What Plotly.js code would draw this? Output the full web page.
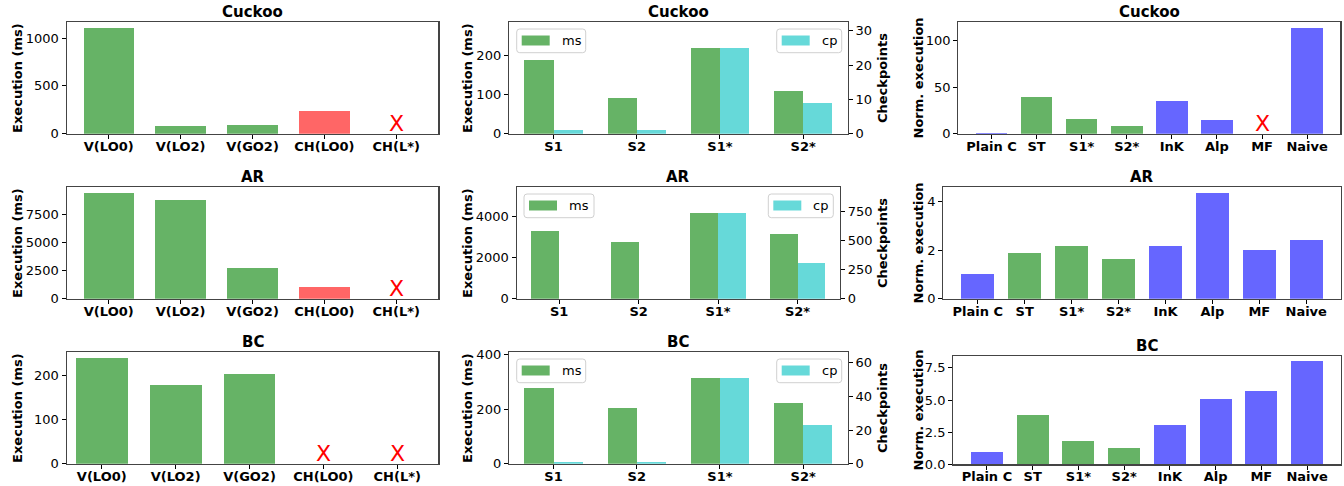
<!DOCTYPE html>
<html><head><meta charset="utf-8">
<script src="https://cdn.plot.ly/plotly-3.0.1.min.js"></script>
<style>html,body{margin:0;padding:0;background:#fff}#chart{width:1344px;height:486px}</style>
</head><body><div id="chart"></div>
<script>
// ---------- data ----------
const variantCats = ['V(LO0)', 'V(LO2)', 'V(GO2)', 'CH(LO0)', 'CH(L*)'];
const variantKinds = ['g', 'g', 'g', 'r', 'g'];
const cuckooExec = [1111, 80, 90, 236, 0];
const arExec = [9412, 8794, 2706, 1029, 0];
const bcExec = [241, 180, 205, 0, 0];
const cuckooExecFailed = [4];
const arExecFailed = [4];
const bcExecFailed = [3, 4];

const strategyCats = ['S1', 'S2', 'S1*', 'S2*'];
const cuckooMs = [189, 91, 220, 109];
const cuckooCp = [1, 1, 25, 9];
const arMs = [3274, 2742, 4145, 3129];
const arCp = [1, 1, 733, 305];
const bcMs = [278, 205, 315, 223];
const bcCp = [1, 1, 51, 23];

const systemCats = ['Plain C', 'ST', 'S1*', 'S2*', 'InK', 'Alp', 'MF', 'Naive'];
const systemKinds = ['b', 'g', 'g', 'g', 'b', 'b', 'b', 'b'];
const cuckooNorm = [1, 39, 15.7, 8.2, 34.9, 14.6, 0, 113.9];
const arNorm = [1, 1.88, 2.16, 1.62, 2.16, 4.37, 1.99, 2.40];
const bcNorm = [0.97, 3.82, 1.79, 1.27, 3.06, 5.09, 5.71, 8.05];
const cuckooNormFailed = [6];
const arNormFailed = [];
const bcNormFailed = [];

const benchTitles = ['Cuckoo', 'AR', 'BC'];
const legendLabels = ['ms', 'cp'];

// ---------- styling ----------
const W = 1344, H = 486;
const COL = {g: 'rgba(0,128,0,0.6)', r: 'rgba(255,0,0,0.6)', b: 'rgba(0,0,255,0.6)', c: 'rgba(0,191,191,0.6)'};
const FONT = 'DejaVu Sans, Liberation Sans, sans-serif';
const fx = p => p / W;
const fy = p => 1 - p / H;

// panel boxes in pixels: [left, right, top, bottom]
const boxes = {
  1: [66.7, 438.3, 22.3, 133.7], 2: [509, 847.7, 22.3, 133.7], 3: [958.3, 1340.3, 22.3, 133.7],
  4: [66.7, 438.3, 187.3, 298.7], 5: [516.7, 840, 187.3, 298.7], 6: [943.3, 1340.7, 187.3, 298.7],
  7: [66.7, 438.3, 352.3, 463.7], 8: [509, 847.7, 352.3, 463.7], 9: [953.3, 1340.7, 355.7, 464.3]
};

const layout = {
  width: W, height: H, margin: {l: 0, r: 0, t: 0, b: 0},
  paper_bgcolor: '#fff', plot_bgcolor: '#fff',
  font: {family: FONT, size: 13, color: '#000'},
  showlegend: false, annotations: [], shapes: [], bargap: 0
};
const data = [];
const sfx = n => (n === 1 ? '' : String(n));

function baseX(n, cats, range) {
  const b = boxes[n];
  layout['xaxis' + sfx(n)] = {
    domain: [fx(b[0]), fx(b[1])], anchor: 'y' + sfx(n), range: range,
    tickmode: 'array', tickvals: cats.map((c, i) => i), ticktext: cats,
    tickfont: {family: FONT, size: 13, weight: 'bold', color: '#000'},
    ticks: 'outside', ticklen: 4, tickcolor: '#000', tickwidth: 1, ticklabelstandoff: -4,
    showline: true, mirror: true, linecolor: '#444', linewidth: 1.2,
    showgrid: false, zeroline: false, fixedrange: true
  };
}
function baseY(n, range, dtick, fmt, mirror) {
  const b = boxes[n];
  layout['yaxis' + sfx(n)] = {
    domain: [fy(b[3]), fy(b[2])], anchor: 'x' + sfx(n), range: range, dtick: dtick, tick0: 0,
    tickformat: fmt, tickfont: {family: FONT, size: 13, color: '#000'},
    ticks: 'outside', ticklen: 4, tickcolor: '#000', tickwidth: 1,
    showline: true, mirror: mirror, linecolor: '#444', linewidth: 1.2,
    showgrid: false, zeroline: false, fixedrange: true
  };
}
function panelTitle(n, text) {
  const b = boxes[n];
  layout.annotations.push({xref: 'paper', yref: 'paper', x: fx((b[0] + b[1]) / 2), y: fy(b[2]),
    xanchor: 'center', yanchor: 'bottom', yshift: -1, showarrow: false, text: '<b>' + text + '</b>',
    font: {family: FONT, size: 15, color: '#000'}});
}
function yTitle(xpx, n, text) {
  const b = boxes[n];
  layout.annotations.push({xref: 'paper', yref: 'paper', x: fx(xpx), y: fy((b[2] + b[3]) / 2),
    xanchor: 'center', yanchor: 'middle', textangle: -90, showarrow: false, text: '<b>' + text + '</b>',
    font: {family: FONT, size: 13, color: '#000'}});
}
function failMarks(n, idxs) {
  idxs.forEach(i => layout.annotations.push({xref: 'x' + sfx(n), yref: 'y' + sfx(n), x: i, y: 0,
    xanchor: 'center', yanchor: 'bottom', yshift: -4, showarrow: false, text: 'X',
    font: {family: FONT, size: 22, color: 'red'}}));
}
function singleBars(n, cats, kinds, vals) {
  data.push({type: 'bar', x: cats.map((c, i) => i), y: vals, width: 0.7,
    marker: {color: kinds.map(k => COL[k]), line: {width: 0}},
    xaxis: 'x' + sfx(n), yaxis: 'y' + sfx(n), showlegend: false, hoverinfo: 'skip'});
}
// matplotlib-like legend box: rounded frame, wide colour patch, label
function legendBox(left, top, width, color, label) {
  const h = 23.7, r = 3;
  const X = p => fx(p), Y = p => fy(p);
  const l = left, t = top, rr = left + width, bb = top + h;
  const path = `M${X(l + r)},${Y(t)} L${X(rr - r)},${Y(t)} Q${X(rr)},${Y(t)} ${X(rr)},${Y(t + r)} ` +
    `L${X(rr)},${Y(bb - r)} Q${X(rr)},${Y(bb)} ${X(rr - r)},${Y(bb)} L${X(l + r)},${Y(bb)} ` +
    `Q${X(l)},${Y(bb)} ${X(l)},${Y(bb - r)} L${X(l)},${Y(t + r)} Q${X(l)},${Y(t)} ${X(l + r)},${Y(t)} Z`;
  layout.shapes.push({type: 'path', xref: 'paper', yref: 'paper', path: path,
    fillcolor: 'rgba(255,255,255,0.8)', line: {color: '#d0d0d0', width: 1}});
  layout.shapes.push({type: 'rect', xref: 'paper', yref: 'paper',
    x0: X(l + 5), x1: X(l + 33), y0: Y(t + 16.5), y1: Y(t + 6.5), fillcolor: color, line: {width: 0}});
  layout.annotations.push({xref: 'paper', yref: 'paper', x: X(l + 43), y: Y(t + h / 2),
    xanchor: 'left', yanchor: 'middle', showarrow: false, text: label,
    font: {family: FONT, size: 13, color: '#000'}});
}

// ---------- column 1: execution by variant ----------
const col1 = [
  {n: 1, vals: cuckooExec, failed: cuckooExecFailed, range: [0, 1166], dtick: 500, xr: [-0.585, 4.585]},
  {n: 4, vals: arExec, failed: arExecFailed, range: [0, 9882], dtick: 2500, xr: [-0.585, 4.585]},
  {n: 7, vals: bcExec, failed: bcExecFailed, range: [0, 253.6], dtick: 100, xr: [-0.475, 4.556]}
];
col1.forEach((p, r) => {
  singleBars(p.n, variantCats, variantKinds, p.vals);
  baseX(p.n, variantCats, p.xr);
  baseY(p.n, p.range, p.dtick, 'd', true);
  panelTitle(p.n, benchTitles[r]);
  yTitle(16.9, p.n, 'Execution (ms)');
  failMarks(p.n, p.failed);
});

// ---------- column 2: ms vs checkpoints ----------
const col2 = [
  {n: 2, sec: 10, ms: cuckooMs, cp: cuckooCp, r1: [0, 286], d1: 100, r2: [0, 32.5], d2: 10,
   msBox: [516.7, 29, 69], cpBox: [776.7, 29, 65]},
  {n: 5, sec: 11, ms: arMs, cp: arCp, r1: [0, 5388], d1: 2000, r2: [0, 953], d2: 250,
   msBox: [524, 194, 70], cpBox: [768.3, 194, 65]},
  {n: 8, sec: 12, ms: bcMs, cp: bcCp, r1: [0, 409.5], d1: 200, r2: [0, 66.3], d2: 20,
   msBox: [516.7, 359, 69], cpBox: [776.7, 359, 65]}
];
col2.forEach((p, r) => {
  const xs = strategyCats.map((c, i) => i);
  data.push({type: 'bar', name: legendLabels[0], x: xs, y: p.ms, width: 0.35, offset: -0.35,
    marker: {color: COL.g, line: {width: 0}}, xaxis: 'x' + sfx(p.n), yaxis: 'y' + sfx(p.n), hoverinfo: 'skip'});
  data.push({type: 'bar', name: legendLabels[1], x: xs, y: p.cp, width: 0.35, offset: 0,
    marker: {color: COL.c, line: {width: 0}}, xaxis: 'x' + sfx(p.n), yaxis: 'y' + p.sec, hoverinfo: 'skip'});
  baseX(p.n, strategyCats, [-0.535, 3.535]);
  baseY(p.n, p.r1, p.d1, 'd', false);
  layout['yaxis' + p.sec] = {
    overlaying: 'y' + sfx(p.n), side: 'right', anchor: 'x' + sfx(p.n), range: p.r2, dtick: p.d2, tick0: 0,
    tickformat: 'd', tickfont: {family: FONT, size: 13, color: '#000'},
    ticks: 'outside', ticklen: 4, tickcolor: '#000', tickwidth: 1,
    showline: true, linecolor: '#444', linewidth: 1.2, showgrid: false, zeroline: false, fixedrange: true
  };
  legendBox(p.msBox[0], p.msBox[1], p.msBox[2], COL.g, legendLabels[0]);
  legendBox(p.cpBox[0], p.cpBox[1], p.cpBox[2], COL.c, legendLabels[1]);
  panelTitle(p.n, benchTitles[r]);
  yTitle(467, p.n, 'Execution (ms)');
  yTitle(882, p.n, 'Checkpoints');
});

// ---------- column 3: normalized execution ----------
const col3 = [
  {n: 3, vals: cuckooNorm, failed: cuckooNormFailed, range: [0, 119.6], dtick: 50, fmt: 'd'},
  {n: 6, vals: arNorm, failed: arNormFailed, range: [0, 4.59], dtick: 2, fmt: 'd'},
  {n: 9, vals: bcNorm, failed: bcNormFailed, range: [0, 8.45], dtick: 2.5, fmt: '.1f'}
];
col3.forEach((p, r) => {
  singleBars(p.n, systemCats, systemKinds, p.vals);
  baseX(p.n, systemCats, [-0.735, 7.735]);
  baseY(p.n, p.range, p.dtick, p.fmt, true);
  panelTitle(p.n, benchTitles[r]);
  yTitle(917.5, p.n, 'Norm. execution');
  failMarks(p.n, p.failed);
});

Plotly.newPlot('chart', data, layout, {staticPlot: true, displayModeBar: false});
</script>
</body></html>
